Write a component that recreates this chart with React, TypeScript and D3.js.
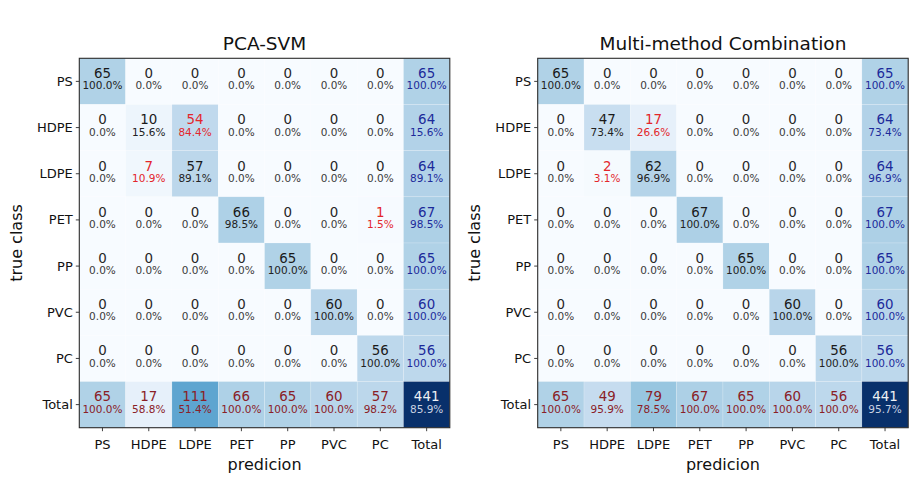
import * as d3 from 'd3'

// ─── Data ────────────────────────────────────────────────────────────────────

const CLASSES = ['PS', 'HDPE', 'LDPE', 'PET', 'PP', 'PVC', 'PC']
const LABELS = [...CLASSES, 'Total']

// rows = true class, columns = prediction
const SVM_COUNTS = [
  [65, 0, 0, 0, 0, 0, 0],
  [0, 10, 54, 0, 0, 0, 0],
  [0, 7, 57, 0, 0, 0, 0],
  [0, 0, 0, 66, 0, 0, 1],
  [0, 0, 0, 0, 65, 0, 0],
  [0, 0, 0, 0, 0, 60, 0],
  [0, 0, 0, 0, 0, 0, 56],
]

const COMBO_COUNTS = [
  [65, 0, 0, 0, 0, 0, 0],
  [0, 47, 17, 0, 0, 0, 0],
  [0, 2, 62, 0, 0, 0, 0],
  [0, 0, 0, 67, 0, 0, 0],
  [0, 0, 0, 0, 65, 0, 0],
  [0, 0, 0, 0, 0, 60, 0],
  [0, 0, 0, 0, 0, 0, 56],
]

const TITLES = ['PCA-SVM', 'Multi-method Combination']

// ─── Layout ──────────────────────────────────────────────────────────────────

const W = 918
const H = 481
const PANEL_X = [79.3, 537.7]
const PANEL_TOP = 58.3
const PANEL_W = 370.5
const PANEL_H = 369.4
const FONT = '"DejaVu Sans", Verdana, sans-serif'

const color = d3.scaleSequential(d3.interpolateBlues).domain([0, 205]).clamp(true)

type Kind = 'diag' | 'off' | 'zero' | 'rowTotal' | 'colTotal' | 'grand'
interface Cell { r: number; c: number; value: number; pct: number; kind: Kind }

function buildCells(m: number[][]): Cell[] {
  const n = m.length
  const rowSum = m.map((row) => d3.sum(row))
  const colSum = d3.range(n).map((j) => d3.sum(m, (row) => row[j]))
  const total = d3.sum(rowSum)
  const diag = d3.range(n).map((i) => m[i][i])
  const cells: Cell[] = []
  for (let i = 0; i < n; i++) {
    for (let j = 0; j < n; j++) {
      const v = m[i][j]
      cells.push({
        r: i, c: j, value: v,
        pct: rowSum[i] ? (v / rowSum[i]) * 100 : 0,
        kind: i === j ? 'diag' : v === 0 ? 'zero' : 'off',
      })
    }
    cells.push({ r: i, c: n, value: rowSum[i], pct: (diag[i] / rowSum[i]) * 100, kind: 'rowTotal' })
  }
  for (let j = 0; j < n; j++) {
    cells.push({ r: n, c: j, value: colSum[j], pct: colSum[j] ? (diag[j] / colSum[j]) * 100 : 0, kind: 'colTotal' })
  }
  cells.push({ r: n, c: n, value: total, pct: (d3.sum(diag) / total) * 100, kind: 'grand' })
  return cells
}

const TEXT_COLORS: Record<Kind, [string, string]> = {
  diag: ['#1a1a1a', '#222'],
  off: ['#e3262b', '#e3262b'],
  zero: ['#262626', '#3a3a3a'],
  rowTotal: ['#1c2a9a', '#1c2a9a'],
  colTotal: ['#8a2026', '#8a2026'],
  grand: ['#eef0f4', '#c9d2e2'],
}

// ─── Panel ───────────────────────────────────────────────────────────────────

function Panel({ x0, title, counts }: { x0: number; title: string; counts: number[][] }) {
  const xs = d3.scaleBand<string>().domain(LABELS).range([0, PANEL_W])
  const ys = d3.scaleBand<string>().domain(LABELS).range([0, PANEL_H])
  const cells = buildCells(counts)
  const bw = xs.bandwidth()
  const bh = ys.bandwidth()

  return (
    <g transform={`translate(${x0},${PANEL_TOP})`} fontFamily={FONT}>
      <text x={PANEL_W / 2} y={-8} textAnchor="middle" fontSize={18.5} fill="#111">{title}</text>

      {cells.map((d) => {
        const x = xs(LABELS[d.c])!
        const y = ys(LABELS[d.r])!
        const [c1, c2] = TEXT_COLORS[d.kind]
        return (
          <g key={`${d.r}-${d.c}`}>
            <rect x={x} y={y} width={bw} height={bh} fill={color(d.value)}
              stroke="#ffffff" strokeOpacity={0.35} strokeWidth={0.5} />
            <text x={x + bw / 2} y={y + bh / 2 - 3.2} textAnchor="middle" fontSize={13.4} fill={c1}>
              {d.value}
            </text>
            <text x={x + bw / 2} y={y + bh / 2 + 8.1} textAnchor="middle" fontSize={10.5} fill={c2}>
              {`${d.pct.toFixed(1)}%`}
            </text>
          </g>
        )
      })}

      <rect x={0} y={0} width={PANEL_W} height={PANEL_H} fill="none" stroke="#2b2b2b" strokeWidth={1.1} />

      {/* Y axis */}
      {LABELS.map((l) => {
        const y = ys(l)! + bh / 2
        return (
          <g key={`y-${l}`}>
            <line x1={-3.5} x2={0} y1={y} y2={y} stroke="#2b2b2b" strokeWidth={0.9} />
            <text x={-6.5} y={y} dy="0.35em" textAnchor="end" fontSize={13} fill="#111">{l}</text>
          </g>
        )
      })}

      {/* X axis */}
      {LABELS.map((l) => {
        const x = xs(l)! + bw / 2
        return (
          <g key={`x-${l}`}>
            <line x1={x} x2={x} y1={PANEL_H} y2={PANEL_H + 3.5} stroke="#2b2b2b" strokeWidth={0.9} />
            <text x={x} y={PANEL_H + 21} textAnchor="middle" fontSize={13} fill="#111">{l}</text>
          </g>
        )
      })}

      <text x={PANEL_W / 2} y={PANEL_H + 42.3} textAnchor="middle" fontSize={16} fill="#111">predicion</text>
      <text transform={`translate(${-63},${PANEL_H / 2}) rotate(-90)`} dy="0.35em" textAnchor="middle" fontSize={16} fill="#111">
        true class
      </text>
    </g>
  )
}

export default function App() {
  const matrices = [SVM_COUNTS, COMBO_COUNTS]
  return (
    <svg width={W} height={H} style={{ position: 'absolute', left: 0, top: 0, background: '#fff' }}>
      <rect width={W} height={H} fill="#fff" />
      {matrices.map((m, i) => (
        <Panel key={TITLES[i]} x0={PANEL_X[i]} title={TITLES[i]} counts={m} />
      ))}
    </svg>
  )
}
